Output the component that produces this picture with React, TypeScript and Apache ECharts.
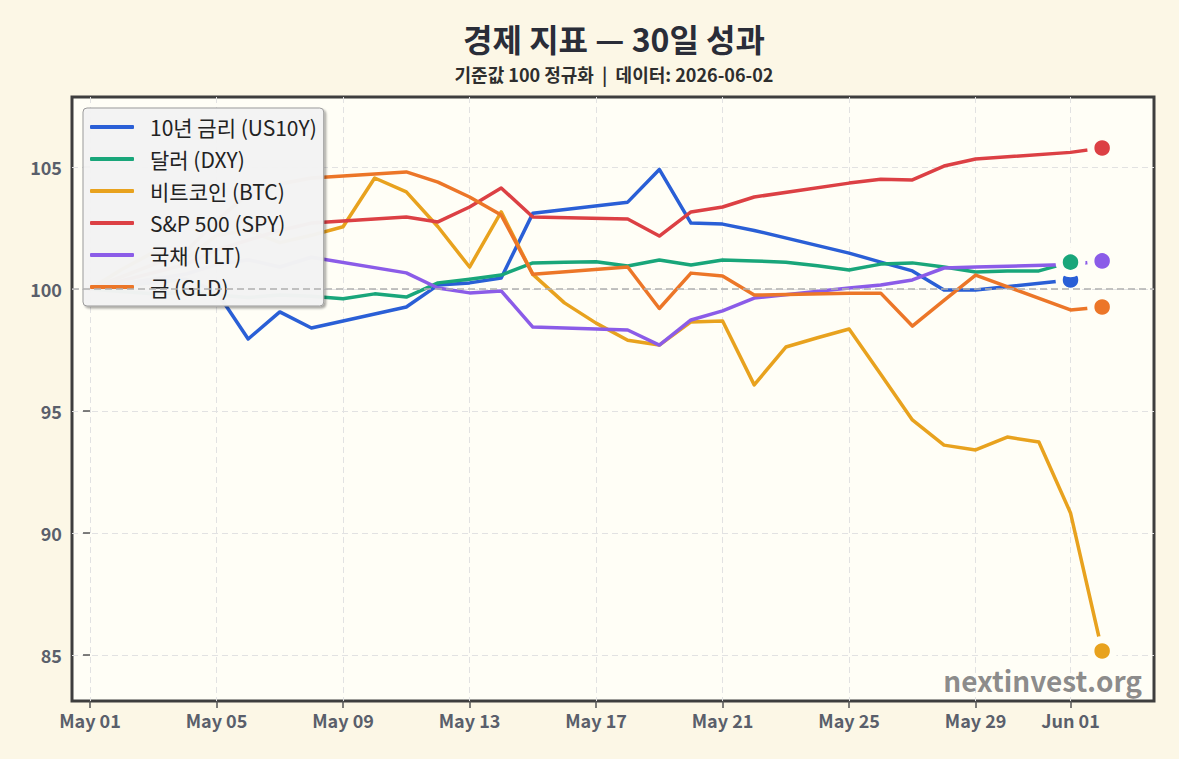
import React, { useEffect, useRef } from "react";
import * as echarts from "echarts";

// Day index: 0 = May 01, 31 = Jun 01, 32 = Jun 02
const WEEKDAY_DAYS = [0, 3, 4, 5, 6, 7, 10, 11, 12, 13, 14, 17, 18, 19, 20, 21, 24, 25, 26, 27, 28, 31];
const WEEKDAY_DAYS_EXT = [0, 3, 4, 5, 6, 7, 10, 11, 12, 13, 14, 17, 18, 19, 20, 21, 24, 25, 26, 27, 28, 31, 32];
const DAILY_DAYS = [0, 1, 2, 3, 4, 5, 6, 7, 8, 9, 10, 11, 12, 13, 14, 15, 16, 17, 18, 19, 20, 21, 22, 23, 24, 25, 26, 27, 28, 29, 30, 31];
const DAILY_DAYS_EXT = [0, 1, 2, 3, 4, 5, 6, 7, 8, 9, 10, 11, 12, 13, 14, 15, 16, 17, 18, 19, 20, 21, 22, 23, 24, 25, 26, 27, 28, 29, 30, 31, 32];

const us10y = [100, 100.4, 99.9, 97.95, 99.06, 98.4, 99.26, 100.16, 100.25, 100.45, 103.1, 103.56, 104.9, 102.7, 102.66, 102.4, 101.47, 101.1, 100.74, 99.96, 99.96, 100.37];
const dxy = [100, 99.9, 99.8, 99.85, 99.75, 99.65, 99.75, 99.7, 99.6, 99.8, 99.67, 100.25, 100.4, 100.57, 101.07, 101.1, 101.12, 100.94, 101.19, 100.98, 101.19, 101.15, 101.1, 100.95, 100.78, 101.02, 101.07, 100.9, 100.7, 100.74, 100.74, 101.1];
const btc = [100, 100.8, 101.5, 101.2, 102.2, 102.4, 101.9, 102.2, 102.55, 104.55, 103.98, 102.55, 100.9, 103.16, 100.6, 99.43, 98.6, 97.9, 97.7, 98.65, 98.69, 96.07, 97.62, 98.0, 98.36, 96.5, 94.63, 93.6, 93.4, 93.93, 93.73, 90.82, 85.16];
const spy = [100, 101.0, 101.6, 102.0, 102.4, 102.7, 102.95, 102.75, 103.36, 104.14, 102.95, 102.87, 102.17, 103.16, 103.36, 103.77, 104.34, 104.5, 104.47, 105.04, 105.33, 105.6, 105.78];
const tlt = [100, 100.6, 101.0, 101.2, 100.9, 101.3, 100.66, 100.04, 99.84, 99.92, 98.44, 98.32, 97.7, 98.73, 99.1, 99.63, 100.04, 100.16, 100.37, 100.86, 100.9, 101.0, 101.15];
const gld = [100, 101.5, 102.8, 103.9, 104.3, 104.55, 104.8, 104.38, 103.77, 103.03, 100.6, 100.9, 99.2, 100.65, 100.53, 99.75, 99.83, 99.83, 98.48, 99.53, 100.57, 99.14, 99.26];

const seriesNames = ["10년 금리 (US10Y)", "달러 (DXY)", "비트코인 (BTC)", "S&P 500 (SPY)", "국채 (TLT)", "금 (GLD)"];
const seriesColors = ["#2a5fd6", "#19a67a", "#e8a21e", "#dc4044", "#8b5ce8", "#ec7628"];
const seriesDays = [WEEKDAY_DAYS, DAILY_DAYS, DAILY_DAYS_EXT, WEEKDAY_DAYS_EXT, WEEKDAY_DAYS_EXT, WEEKDAY_DAYS_EXT];
const seriesValues = [us10y, dxy, btc, spy, tlt, gld];

const xTickDays = [0, 4, 8, 12, 16, 20, 24, 28, 31];
const xTickLabels = ["May 01", "May 05", "May 09", "May 13", "May 17", "May 21", "May 25", "May 29", "Jun 01"];
const yTicks = [85, 90, 95, 100, 105];
const baseline = 100;

const TITLE = "경제 지표 — 30일 성과";
const SUBTITLE = "기준값 100 정규화  |  데이터: 2026-06-02";
const WATERMARK = "nextinvest.org";

const FONT = "'Noto Sans CJK KR', 'Noto Sans', sans-serif";
const PAGE_BG = "#fcf7e6";
const PLOT_BG = "#fffef6";

export default function App() {
  const ref = useRef<HTMLDivElement>(null);

  useEffect(() => {
    if (!ref.current) return;
    const chart = echarts.init(ref.current, undefined, { renderer: "svg" });

    const lineSeries: any[] = seriesNames.map((name, i) => ({
      name,
      type: "line",
      data: seriesDays[i].map((d, j) => [d, seriesValues[i][j]]),
      showSymbol: false,
      symbol: "none",
      lineStyle: { width: 3.5, color: seriesColors[i], cap: "round", join: "round" },
      itemStyle: { color: seriesColors[i] },
      z: 2,
      silent: true,
    }));

    // reference line at 100
    lineSeries.unshift({
      name: "__ref",
      type: "line",
      data: [],
      silent: true,
      z: 1,
      markLine: {
        silent: true,
        symbol: "none",
        label: { show: false },
        lineStyle: { type: [7, 4], color: "#b0b0b0", width: 1.6 },
        data: [{ yAxis: baseline }],
      },
    });

    const endSeries: any[] = [];
    seriesNames.forEach((name, i) => {
      const d = seriesDays[i];
      const v = seriesValues[i];
      const last = [d[d.length - 1], v[v.length - 1]];
      endSeries.push({
        name: "__halo" + i,
        type: "scatter",
        data: [last],
        symbolSize: 30,
        itemStyle: { color: PLOT_BG, opacity: 1 },
        z: 3,
        silent: true,
      });
      endSeries.push({
        name: "__end" + i,
        type: "scatter",
        data: [last],
        symbolSize: 17,
        itemStyle: { color: seriesColors[i], borderColor: PLOT_BG, borderWidth: 1.5, opacity: 1 },
        z: 3,
        silent: true,
      });
    });

    const option: any = {
      animation: false,
      backgroundColor: PAGE_BG,
      textStyle: { fontFamily: FONT },
      grid: {
        left: 72,
        right: 25,
        top: 97,
        bottom: 58,
        show: true,
        backgroundColor: PLOT_BG,
        borderColor: "#3e3e3e",
        borderWidth: 3,
        containLabel: false,
      },
      legend: {
        data: seriesNames,
        orient: "vertical",
        left: 83,
        top: 108,
        icon: "roundRect",
        itemWidth: 44,
        itemHeight: 4,
        itemGap: 8,
        padding: [7, 7, 7, 7],
        backgroundColor: "rgba(244,244,244,0.97)",
        borderColor: "#9a9a9a",
        borderWidth: 1,
        borderRadius: 4,
        shadowColor: "rgba(0,0,0,0.35)",
        shadowBlur: 2,
        shadowOffsetX: 2,
        shadowOffsetY: 2,
        selectedMode: false,
        textStyle: {
          fontFamily: FONT,
          fontSize: 21,
          color: "#222",
          lineHeight: 24,
          padding: [0, 0, 0, 11],
        },
      },
      xAxis: {
        type: "value",
        min: -0.57,
        max: 33.64,
        axisLine: { show: false },
        axisTick: {
          show: true,
          customValues: xTickDays,
          length: 7,
          lineStyle: { color: "#555", width: 1.5 },
        },
        axisLabel: {
          customValues: xTickDays,
          formatter: (v: number) => {
            const k = xTickDays.indexOf(Math.round(v));
            return k >= 0 ? xTickLabels[k] : "";
          },
          fontFamily: FONT,
          fontSize: 18,
          fontWeight: "bold",
          color: "#5a5f6b",
          margin: 10,
        },
        splitLine: {
          show: true,
          lineStyle: { type: [6, 4], color: "#e2e2e2", width: 1 },
        },
      },
      yAxis: {
        type: "value",
        min: 83.11,
        max: 107.87,
        axisLine: { show: false },
        axisTick: {
          show: true,
          customValues: yTicks,
          length: 7,
          lineStyle: { color: "#555", width: 1.5 },
        },
        axisLabel: {
          customValues: yTicks,
          fontFamily: FONT,
          fontSize: 18,
          fontWeight: "bold",
          color: "#5a5f6b",
          margin: 10,
        },
        splitLine: {
          show: true,
          lineStyle: { type: [6, 4], color: "#e2e2e2", width: 1 },
        },
      },
      graphic: [
        {
          type: "text",
          x: 614,
          y: 38,
          style: {
            text: TITLE,
            fontFamily: FONT,
            fontSize: 32,
            fontWeight: "bold",
            fill: "#2a2d38",
            textAlign: "center",
            textVerticalAlign: "middle",
          },
        },
        {
          type: "text",
          x: 614,
          y: 74,
          style: {
            text: SUBTITLE,
            fontFamily: FONT,
            fontSize: 18,
            fontWeight: "bold",
            fill: "#2e2e2e",
            textAlign: "center",
            textVerticalAlign: "middle",
          },
        },
        {
          type: "text",
          x: 1142,
          y: 680,
          z: 100,
          style: {
            text: WATERMARK,
            fontFamily: FONT,
            fontSize: 28,
            fontWeight: "bold",
            fill: "rgba(120,120,120,0.85)",
            textAlign: "right",
            textVerticalAlign: "middle",
          },
        },
      ],
      series: [...lineSeries, ...endSeries],
    };

    chart.setOption(option);
    return () => chart.dispose();
  }, []);

  return (
    <div
      ref={ref}
      style={{ position: "absolute", left: 0, top: 0, width: 1179, height: 759 }}
    />
  );
}
